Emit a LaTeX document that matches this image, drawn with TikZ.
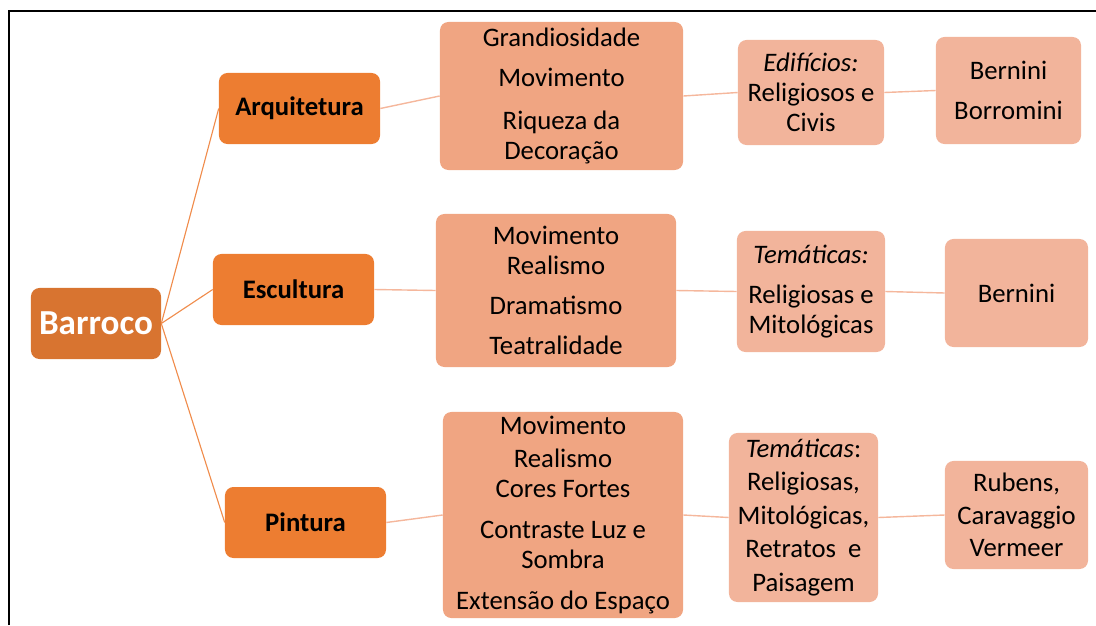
\documentclass[tikz,border=0pt]{standalone}
\usepackage{fontspec}
\setmainfont{Carlito}
\usetikzlibrary{positioning}

\definecolor{rootorange}{HTML}{D87430}
\definecolor{mainorange}{HTML}{ED7D31}
\definecolor{midsalmon}{HTML}{F0A582}
\definecolor{lightsalmon}{HTML}{F2B49B}
\definecolor{linkorange}{HTML}{F08C4C}
\definecolor{linksalmon}{HTML}{F5B79C}

\begin{document}
\begin{tikzpicture}[
    x=0.025cm, y=-0.025cm,
    every node/.style={font=\fontsize{19}{21.3}\selectfont},
    block/.style={
        rectangle,
        rounded corners=6pt,
        align=center,
        inner sep=0pt
    },
    boxsize/.style 2 args={minimum width=#1, minimum height=#2},
    root/.style={block, fill=rootorange, text=white,
        font=\fontsize{25}{30}\selectfont\bfseries},
    art/.style={block, fill=mainorange,
        font=\fontsize{19}{21.3}\selectfont\bfseries,
        boxsize={4.025cm}{1.775cm}},
    trait/.style={block, fill=midsalmon},
    leaf/.style={block, fill=lightsalmon},
    branch/.style={draw=linkorange, line width=0.8pt},
    link/.style={draw=linksalmon, line width=1pt}
]
\useasboundingbox (0,0) rectangle (1096,625);

% ---------- Frame ----------
\draw[line width=1.4pt] (9,625) -- (9,11) -- (1096,11);

% ---------- Nodes ----------
\node[root, boxsize={3.25cm}{1.775cm}] (barroco) at (96,323.5) {Barroco};

\node[art] (arq)  at (299.5,108.5) {Arquitetura};
\node[art] (esc)  at (293.5,289.5) {Escultura};
\node[art] (pint) at (305.5,522.5) {Pintura};

\node[trait, boxsize={6.075cm}{3.7cm}] (arqcar) at (561.5,96)
    {Grandiosidade\\[7pt] Movimento\\[9pt] Riqueza da\\ Decoração};
\node[trait, boxsize={6cm}{3.825cm}] (esccar) at (556,290.5)
    {Movimento\\ Realismo\\[7pt] Dramatismo\\[7.5pt] Teatralidade};
\node[trait, boxsize={6cm}{5.15cm}] (pintcar) at (563,515)
    {Movimento\\[2.5pt] Realismo\\ Cores Fortes\\[7.5pt] Contraste Luz e\\ Sombra\\[8pt] Extensão do Espaço};

\node[leaf, boxsize={3.65cm}{2.625cm}] (arqtema) at (811,92.5)
    {\textit{Edifícios:}\\ Religiosos e\\ Civis};
\node[leaf, boxsize={3.7cm}{3.025cm}] (esctema) at (811,291.5)
    {\textit{Temáticas:}\\[7pt] Religiosas e\\ Mitológicas};
\node[leaf, boxsize={3.725cm}{4.225cm}] (pinttema) at (803.5,517.5)
    {\textit{Temáticas}:\\[2.5pt] Religiosas,\\[2.5pt] Mitológicas,\\[2.5pt] Retratos~ e\\[2.5pt] Paisagem};

\node[leaf, boxsize={3.625cm}{2.675cm}] (arqnomes) at (1008.5,90.5)
    {Bernini\\[7pt] Borromini};
\node[leaf, boxsize={3.575cm}{2.7cm}] (escnomes) at (1016.5,293)
    {Bernini};
\node[leaf, boxsize={3.575cm}{2.7cm}] (pintnomes) at (1016.5,515)
    {Rubens,\\[2pt] Caravaggio\\[2pt] Vermeer};

% ---------- Branches from the root ----------
\draw[branch] (barroco.east) -- (arq.west);
\draw[branch] (barroco.east) -- (esc.west);
\draw[branch] (barroco.east) -- (pint.west);

% ---------- Rows ----------
\draw[link] (arq.east)      -- (arqcar.west);
\draw[link] (arqcar.east)   -- (arqtema.west);
\draw[link] (arqtema.east)  -- (arqnomes.west);

\draw[link] (esc.east)      -- (esccar.west);
\draw[link] (esccar.east)   -- (esctema.west);
\draw[link] (esctema.east)  -- (escnomes.west);

\draw[link] (pint.east)     -- (pintcar.west);
\draw[link] (pintcar.east)  -- (pinttema.west);
\draw[link] (pinttema.east) -- (pintnomes.west);

\end{tikzpicture}
\end{document}
